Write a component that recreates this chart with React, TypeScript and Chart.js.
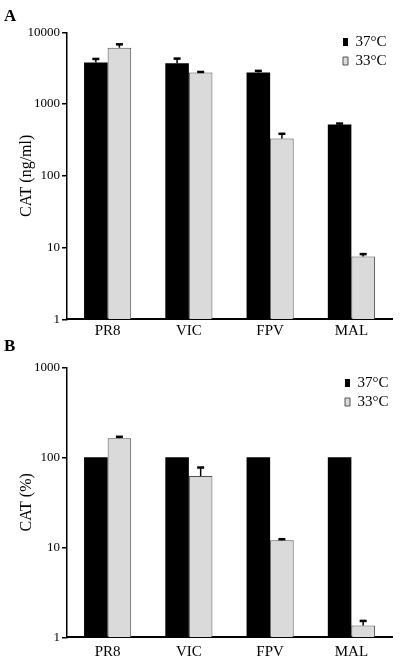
import React, { useEffect, useRef } from 'react';
import { Chart, registerables } from 'chart.js';

Chart.register(...registerables);

const FONT = '"Liberation Serif", "Times New Roman", serif';

const CATEGORIES = ['PR8', 'VIC', 'FPV', 'MAL'];
const SERIES_LABELS = ['37°C', '33°C'];

// Panel A: CAT (ng/ml)
const A_37 = [3800, 3700, 2750, 520];
const A_37_ERR = [4250, 4300, 2900, 535];
const A_33 = [6100, 2750, 330, 7.5];
const A_33_ERR = [6800, 2800, 385, 8.1];
const A_TICKS = [1, 10, 100, 1000, 10000];

// Panel B: CAT (%)
const B_37 = [100, 100, 100, 100];
const B_37_ERR = [null, null, null, null];
const B_33 = [163, 62, 12, 1.35];
const B_33_ERR = [169, 77, 12.3, 1.52];
const B_TICKS = [1, 10, 100, 1000];

const BLACK = '#000000';
const GREY = '#dadada';
const GREY_EDGE = '#505050';

const errorBarPlugin = {
  id: 'errorBars',
  afterDatasetsDraw(chart: any) {
    const ctx = chart.ctx;
    const ys = chart.scales.y;
    chart.data.datasets.forEach((ds: any, di: number) => {
      const meta = chart.getDatasetMeta(di);
      const errs = ds.errors || [];
      meta.data.forEach((el: any, i: number) => {
        const e = errs[i];
        if (e == null) return;
        const top = el.y;
        const ye = ys.getPixelForValue(e);
        ctx.save();
        ctx.strokeStyle = '#000';
        ctx.lineWidth = 1.5;
        ctx.beginPath();
        ctx.moveTo(el.x, top);
        ctx.lineTo(el.x, ye);
        ctx.stroke();
        ctx.lineWidth = 2.5;
        ctx.beginPath();
        ctx.moveTo(el.x - 3.5, ye);
        ctx.lineTo(el.x + 3.5, ye);
        ctx.stroke();
        ctx.restore();
      });
    });
  },
};

const legendPosPlugin = {
  id: 'legendPos',
  afterLayout(chart: any, _args: any, opts: any) {
    const l = chart.legend;
    if (!l) return;
    const w = l.width;
    l.left = opts.x;
    l.right = opts.x + w;
    l.top = opts.y;
    l.bottom = opts.y + 120;
  },
};

function makeConfig(p: {
  letter: string;
  yTitle: string;
  yMax: number;
  ticks: number[];
  s37: number[];
  s37err: (number | null)[];
  s33: number[];
  s33err: (number | null)[];
  titleBottom: number;
  xHeight: number;
  xPad: number;
  legendX: number;
  legendY: number;
}) {
  return {
    type: 'bar',
    data: {
      labels: CATEGORIES,
      datasets: [
        {
          label: SERIES_LABELS[0],
          data: p.s37,
          errors: p.s37err,
          backgroundColor: BLACK,
          borderColor: BLACK,
          borderWidth: 0,
          categoryPercentage: 0.58,
          barPercentage: 1.0,
        },
        {
          label: SERIES_LABELS[1],
          data: p.s33,
          errors: p.s33err,
          backgroundColor: GREY,
          borderColor: GREY_EDGE,
          borderWidth: 1,
          categoryPercentage: 0.58,
          barPercentage: 1.0,
        },
      ],
    },
    options: {
      responsive: false,
      animation: false,
      devicePixelRatio: 1,
      layout: { padding: { left: 4, right: 8, top: 0, bottom: 0 } },
      plugins: {
        title: {
          display: true,
          text: p.letter,
          align: 'start',
          color: '#000',
          font: { family: FONT, size: 17, weight: 'bold' },
          padding: { top: 6, bottom: p.titleBottom },
        },
        legend: {
          display: true,
          position: 'chartArea',
          align: 'start',
          labels: {
            boxWidth: 5,
            boxHeight: 8,
            padding: 4,
            color: '#000',
            font: { family: FONT, size: 15 },
          },
        },
        legendPos: { x: p.legendX, y: p.legendY },
        tooltip: { enabled: false },
      },
      scales: {
        x: {
          grid: { display: false, drawTicks: false },
          border: { display: true, color: '#000', width: 2 },
          ticks: {
            color: '#000',
            font: { family: FONT, size: 15 },
            padding: p.xPad,
            maxRotation: 0,
            autoSkip: false,
          },
          afterFit: (s: any) => {
            s.height = p.xHeight;
          },
        },
        y: {
          type: 'logarithmic',
          min: 1,
          max: p.yMax,
          afterBuildTicks: (s: any) => {
            s.ticks = p.ticks.map((v) => ({ value: v }));
          },
          afterFit: (s: any) => {
            s.width = 63;
          },
          grid: {
            drawOnChartArea: false,
            drawTicks: true,
            tickLength: 5,
            color: '#000',
            lineWidth: 1.5,
          },
          border: { display: true, color: '#000', width: 1.5 },
          ticks: {
            color: '#000',
            font: { family: FONT, size: 13 },
            padding: 2,
            callback: (v: any) => String(v),
          },
          title: {
            display: true,
            text: p.yTitle,
            color: '#000',
            font: { family: FONT, size: 16 },
            padding: { top: 13, bottom: 0 },
          },
        },
      },
    },
    plugins: [errorBarPlugin, legendPosPlugin],
  };
}

export default function App() {
  const refA = useRef<HTMLCanvasElement | null>(null);
  const refB = useRef<HTMLCanvasElement | null>(null);

  useEffect(() => {
    const cA = new Chart(
      refA.current as HTMLCanvasElement,
      makeConfig({
        letter: 'A',
        yTitle: 'CAT (ng/ml)',
        yMax: 10000,
        ticks: A_TICKS,
        s37: A_37,
        s37err: A_37_ERR,
        s33: A_33,
        s33err: A_33_ERR,
        titleBottom: 5.9,
        xHeight: 20.7,
        xPad: 3,
        legendX: 339,
        legendY: 30.5,
      }) as any
    );
    const cB = new Chart(
      refB.current as HTMLCanvasElement,
      makeConfig({
        letter: 'B',
        yTitle: 'CAT (%)',
        yMax: 1000,
        ticks: B_TICKS,
        s37: B_37,
        s37err: B_37_ERR,
        s33: B_33,
        s33err: B_33_ERR,
        titleBottom: 10.9,
        xHeight: 22.7,
        xPad: 6,
        legendX: 341,
        legendY: 41.5,
      }) as any
    );
    return () => {
      cA.destroy();
      cB.destroy();
    };
  }, []);

  return (
    <div style={{ position: 'absolute', left: 0, top: 0, width: 400, height: 660, background: '#fff' }}>
      <canvas
        ref={refA}
        width={400}
        height={340}
        style={{ position: 'absolute', left: 0, top: 0, width: 400, height: 340 }}
      />
      <canvas
        ref={refB}
        width={400}
        height={330}
        style={{ position: 'absolute', left: 0, top: 330, width: 400, height: 330 }}
      />
    </div>
  );
}
